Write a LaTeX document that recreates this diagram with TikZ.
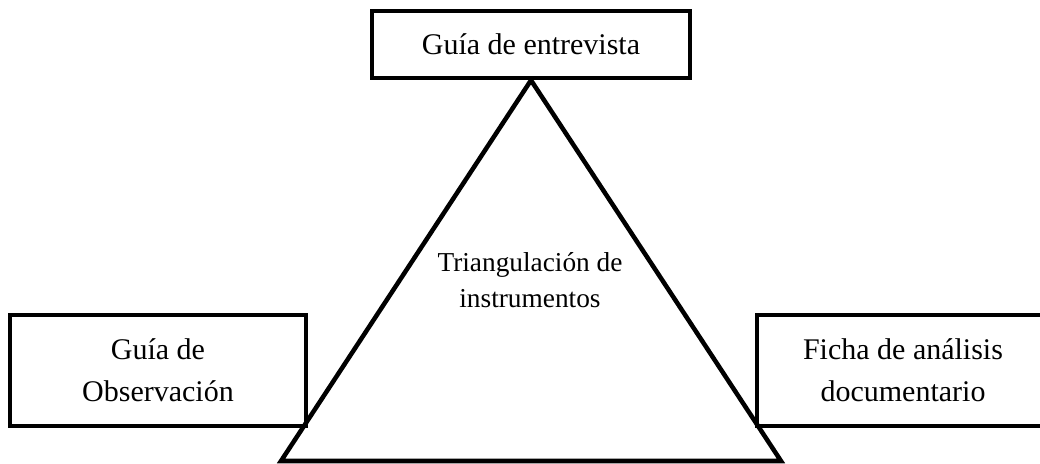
\documentclass[tikz,border=0pt]{standalone}
\usepackage{fontspec}
\setmainfont{Liberation Serif}
\usetikzlibrary{positioning}

\tikzset{
  caja/.style={draw,line width=3.4pt,align=center,inner sep=0pt,
    font=\fontsize{22.5}{31.5}\selectfont},
  lado/.style={line width=3.4pt},
}

\begin{document}
\begin{tikzpicture}[x=0.75pt,y=-0.75pt]
   \useasboundingbox (0,0) rectangle (1040,464);
   \clip (0,0) rectangle (1040,464);
   % cajas de los instrumentos
   \node[caja,minimum width=238.5pt,minimum height=50.25pt] (entrevista) at (531,44.5) {Guía de entrevista};
   \node[caja,minimum width=222pt,minimum height=83.25pt] (observacion) at (158,370.5) {Guía de\\Observación};
   \node[caja,minimum width=219pt,minimum height=83.25pt] (ficha) at (903,370.5) {Ficha de análisis\\documentario};
   % triangulo
   \coordinate (base_izq) at (281,461);
   \coordinate (base_der) at (781,461);
   \draw[lado] (entrevista.south) -- (base_izq) -- (base_der) -- cycle;
   \node[align=center,font=\fontsize{20.5}{27}\selectfont] (triang) at (530,280) {Triangulación de\\instrumentos};
\end{tikzpicture}
\end{document}
